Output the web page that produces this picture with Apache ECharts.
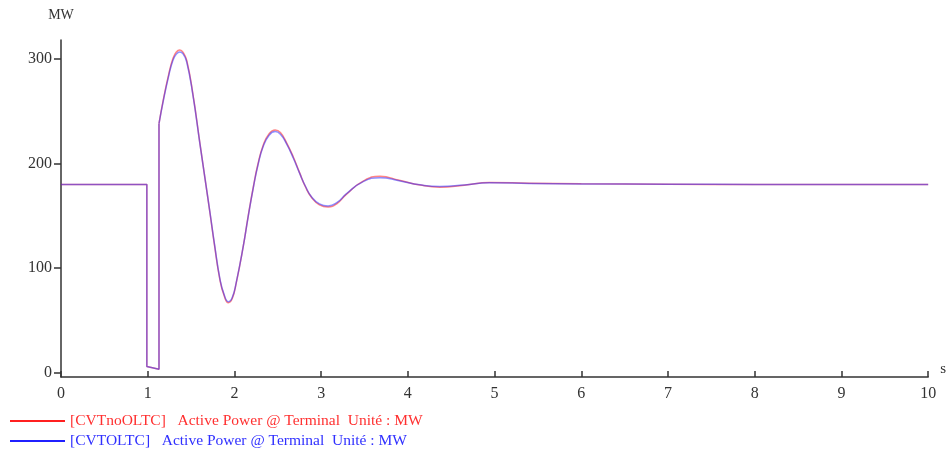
<!DOCTYPE html>
<html>
<head>
<meta charset="utf-8">
<script src="https://cdn.jsdelivr.net/npm/echarts@6/dist/echarts.min.js"></script>
<style>
  html, body { margin: 0; padding: 0; background: #fff; }
  #chart { width: 949px; height: 453px; }
</style>
</head>
<body>
<div id="chart"></div>
<script>
// time (s)
var times = [0, 0.99, 0.99, 1.13, 1.13, 1.18, 1.24, 1.29, 1.33, 1.37, 1.41, 1.45, 1.52, 1.60, 1.66, 1.72,
  1.77, 1.83, 1.88, 1.93, 1.975, 2.02, 2.10, 2.16, 2.22, 2.27, 2.33, 2.40, 2.47, 2.53, 2.60, 2.68,
  2.75, 2.82, 2.89, 2.98, 3.08, 3.18, 3.29, 3.48, 3.68, 3.90, 4.14, 4.37, 4.65, 4.94, 5.4, 6, 7, 8, 10];
// [CVTOLTC] active power (MW)
var powerOLTC = [180, 180, 6, 3.5, 238, 260, 283, 298.5, 304.5, 306.5, 304.5, 297, 266, 220, 186, 152,
  123, 91, 75, 68, 72, 86, 120, 150, 178, 198, 216, 227, 230.5, 228, 219, 205,
  191, 178, 168, 161.5, 159.5, 162.5, 171, 182.5, 186.5, 183.5, 179.6, 178, 179.5, 181.5, 181, 180.5, 180.2, 180, 180];
// [CVTnoOLTC] active power (MW)
var powerNoOLTC = [180, 180, 6, 3.5, 238, 261, 284.5, 300, 306.5, 308.5, 306, 298.5, 267, 220.5, 186, 151.5,
  122, 90, 74, 67, 71, 85.5, 120, 150.5, 178.5, 199, 217, 228.5, 232, 229.5, 220, 206,
  191.5, 177.5, 167.5, 160.5, 158.5, 161.5, 170.5, 183, 187.8, 184, 179.4, 177.4, 179.3, 181.8, 181.2, 180.6, 180.2, 180, 180];
var yTicks = [0, 100, 200, 300];
// index where the fault is cleared: straight steps before, smooth swing after
var clearIdx = 4;

var nameNo = '[CVTnoOLTC]   Active Power @ Terminal  Unité : MW';
var nameYes = '[CVTOLTC]   Active Power @ Terminal  Unité : MW';

function pairs(vals, from, to) {
  var out = [];
  for (var i = from; i < to; i++) out.push([times[i], vals[i]]);
  return out;
}

var serif = '"Liberation Serif", "DejaVu Serif", serif';
var red = '#ff2020', blue = '#2020ff';

function seriesPair(name, vals, color, opacity) {
  var ls = { width: 1.5, color: color, opacity: opacity };
  return [
    { name: name, type: 'line', showSymbol: false, color: color, lineStyle: ls,
      data: pairs(vals, 0, clearIdx + 1) },
    { name: name, type: 'line', showSymbol: false, smooth: 0.5, color: color, lineStyle: ls,
      data: pairs(vals, clearIdx, times.length) }
  ];
}

function legendAt(top, name, color) {
  return {
    left: 10, top: top, padding: 0, itemWidth: 55, itemHeight: 2, icon: 'rect',
    selectedMode: false,
    textStyle: { fontFamily: serif, fontSize: 15.5, color: color },
    data: [name]
  };
}

var chart = echarts.init(document.getElementById('chart'));
chart.setOption({
  animation: false,
  backgroundColor: '#fff',
  grid: { left: 61, right: 19, top: 40, bottom: 76 },
  legend: [
    legendAt(413, nameNo, '#ff3030'),
    legendAt(433, nameYes, '#3030ff')
  ],
  xAxis: {
    type: 'value',
    min: 0,
    max: 10,
    interval: 1,
    name: 's',
    nameLocation: 'end',
    nameGap: 12,
    nameTextStyle: { fontFamily: serif, fontSize: 15, color: '#333', verticalAlign: 'bottom' },
    axisLine: { onZero: false, lineStyle: { color: '#333', width: 1.5 } },
    axisTick: { inside: true, length: 6, lineStyle: { color: '#333', width: 1.5 } },
    axisLabel: { fontFamily: serif, fontSize: 16, color: '#333', margin: 9 },
    splitLine: { show: false }
  },
  yAxis: {
    type: 'value',
    min: -4,
    max: 318,
    name: 'MW',
    nameLocation: 'end',
    nameGap: 18,
    nameTextStyle: { fontFamily: serif, fontSize: 14, color: '#333', align: 'center' },
    axisLine: { show: true, lineStyle: { color: '#333', width: 1.5 } },
    axisTick: { show: true, length: 7, customValues: yTicks, lineStyle: { color: '#333', width: 1.5 } },
    axisLabel: { fontFamily: serif, fontSize: 16, color: '#333', margin: 9, customValues: yTicks },
    splitLine: { show: false }
  },
  series: seriesPair(nameNo, powerNoOLTC, red, 0.55)
    .concat(seriesPair(nameYes, powerOLTC, blue, 0.5))
});
</script>
</body>
</html>
